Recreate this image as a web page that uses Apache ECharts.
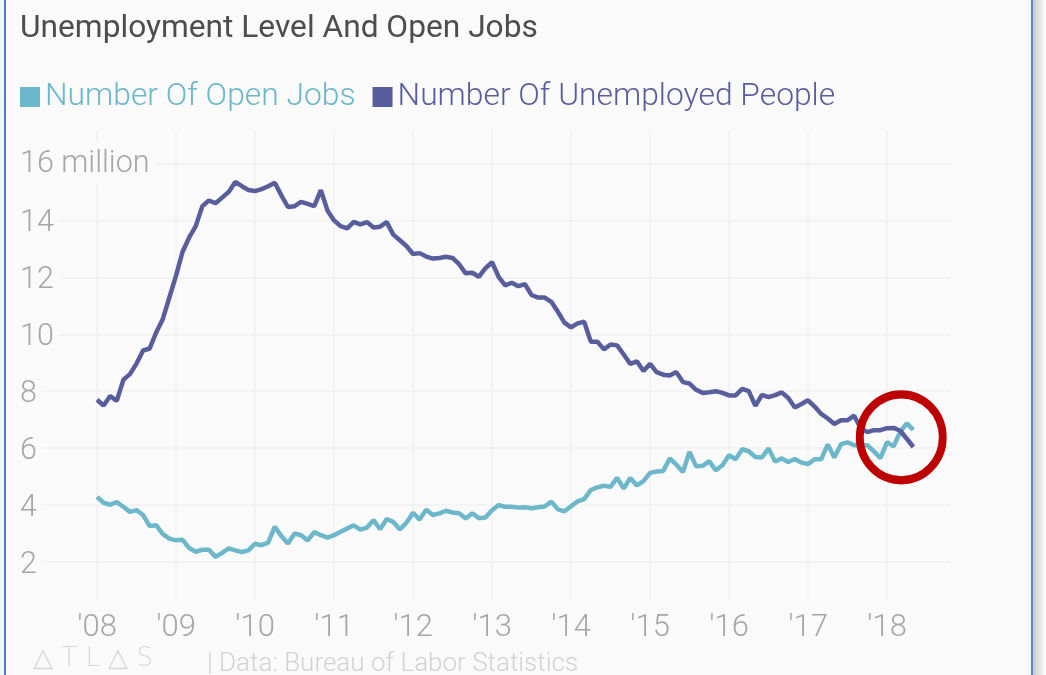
<!DOCTYPE html>
<html>
<head>
<meta charset="utf-8">
<script src="https://cdn.jsdelivr.net/npm/echarts@6/dist/echarts.min.js"></script>
<style>
  html, body { margin: 0; padding: 0; background: #fafafa; }
  #chart { width: 1046px; height: 675px; }
</style>
</head>
<body>
<div id="chart"></div>
<script>
var openJobs = [
  4.29, 4.08, 4.01, 4.10, 3.94, 3.76, 3.82, 3.65, 3.26, 3.29, 2.98, 2.82,
  2.76, 2.78, 2.49, 2.36, 2.43, 2.43, 2.18, 2.32, 2.48, 2.41, 2.35, 2.41,
  2.64, 2.59, 2.68, 3.24, 2.91, 2.65, 3.00, 2.94, 2.76, 3.05, 2.94, 2.86,
  2.94, 3.06, 3.18, 3.29, 3.14, 3.21, 3.47, 3.15, 3.51, 3.41, 3.14, 3.38,
  3.73, 3.49, 3.84, 3.65, 3.71, 3.80, 3.74, 3.71, 3.53, 3.71, 3.54, 3.56,
  3.82, 4.00, 3.94, 3.94, 3.91, 3.92, 3.89, 3.92, 3.95, 4.12, 3.85, 3.78,
  3.96, 4.13, 4.21, 4.53, 4.62, 4.68, 4.64, 4.96, 4.58, 4.95, 4.69, 4.84,
  5.13, 5.18, 5.20, 5.64, 5.42, 5.16, 5.87, 5.36, 5.38, 5.54, 5.22, 5.40,
  5.75, 5.61, 5.96, 5.89, 5.69, 5.67, 5.99, 5.53, 5.64, 5.51, 5.62, 5.49,
  5.44, 5.61, 5.61, 6.13, 5.67, 6.14, 6.20, 6.10, 6.10, 6.10, 5.89, 5.65,
  6.21, 6.06, 6.57, 6.87, 6.64
];
var unemployed = [
  7.70, 7.50, 7.83, 7.66, 8.40, 8.60, 8.97, 9.43, 9.50, 10.07, 10.54, 11.30,
  12.06, 12.90, 13.40, 13.80, 14.50, 14.70, 14.60, 14.80, 15.00, 15.35, 15.20, 15.07,
  15.03, 15.10, 15.20, 15.32, 14.88, 14.47, 14.50, 14.65, 14.58, 14.50, 15.06, 14.35,
  14.00, 13.80, 13.72, 13.95, 13.86, 13.94, 13.75, 13.78, 13.94, 13.50, 13.30, 13.10,
  12.82, 12.85, 12.73, 12.66, 12.68, 12.72, 12.68, 12.46, 12.14, 12.16, 12.02, 12.32,
  12.53, 12.02, 11.72, 11.81, 11.69, 11.76, 11.38, 11.29, 11.29, 11.14, 10.79, 10.41,
  10.24, 10.38, 10.44, 9.74, 9.74, 9.47, 9.64, 9.61, 9.29, 8.96, 9.05, 8.71,
  8.96, 8.67, 8.58, 8.55, 8.67, 8.32, 8.27, 8.05, 7.94, 7.96, 8.00, 7.94,
  7.85, 7.85, 8.08, 8.00, 7.49, 7.87, 7.79, 7.86, 7.96, 7.76, 7.43, 7.55,
  7.68, 7.46, 7.20, 7.04, 6.85, 6.98, 6.98, 7.14, 6.70, 6.56, 6.63, 6.63,
  6.70, 6.71, 6.61, 6.33, 6.04
];
var yTicks = [2, 4, 6, 8, 10, 12, 14, 16];
var yearTicks = [2008, 2009, 2010, 2011, 2012, 2013, 2014, 2015, 2016, 2017, 2018];
// where the red ring sits, on the chart's own scales
var ringCenter = [[2018.18, 6.38]];

// x is in years, one value a month from 2008-01 on
var pair = function(values) {
  return values.map(function(v, i) { return [2008 + i / 12, v]; });
}

var chart = echarts.init(document.getElementById('chart'));
var gridColor = '#f1f1f1';
var labelColor = '#a6a6a6';
var font = 'Roboto';

chart.setOption({
  animation: false,
  backgroundColor: '#fafafa',
  textStyle: { fontFamily: font },
  title: {
    text: 'Unemployment Level And Open Jobs',
    left: 20,
    top: 13,
    padding: 0,
    textStyle: { fontFamily: font, fontSize: 31.7, fontWeight: 400, color: '#4d4d4d' }
  },
  legend: {
    left: 20,
    top: 81,
    padding: 0,
    icon: 'rect',
    itemWidth: 20,
    itemHeight: 20,
    itemGap: 17,
    data: ['Number Of Open Jobs', 'Number Of Unemployed People'],
    textStyle: { fontFamily: font, fontSize: 31.8, fontWeight: 300, color: 'inherit' }
  },
  grid: { left: 20, top: 131, width: 930, height: 469 },
  xAxis: {
    type: 'value',
    min: 2007.025,
    max: 2018.797,
    axisLine: { show: false },
    axisTick: { show: false, customValues: yearTicks },
    splitLine: { show: true, lineStyle: { color: gridColor, width: 1.5 } },
    axisLabel: {
      customValues: yearTicks,
      margin: 13,
      fontSize: 31,
      fontWeight: 300,
      color: labelColor,
      formatter: function(v) {
        return "'" + String(v).slice(2);
      }
    }
  },
  yAxis: {
    type: 'value',
    min: 0.665,
    max: 17.14,
    axisLine: { show: false },
    axisTick: { show: false, customValues: yTicks },
    splitLine: { show: true, lineStyle: { color: gridColor, width: 1.5 } },
    axisLabel: {
      customValues: yTicks,
      inside: true,
      margin: 0,
      align: 'left',
      fontSize: 30.5,
      fontWeight: 300,
      color: labelColor,
      backgroundColor: '#fafafa',
      padding: [6, 6, 0, 0],
      rich: {
        top: { fontSize: 30.5, fontWeight: 300, color: labelColor, padding: [0, 0, 5, 0] }
      },
      formatter: function(v) {
        return v == 16 ? '{top|16 million}' : String(v);
      }
    }
  },
  series: [
    {
      name: 'Number Of Open Jobs',
      type: 'line',
      showSymbol: false,
      data: pair(openJobs),
      itemStyle: { color: '#6db7ca' },
      lineStyle: { color: '#6db7ca', width: 4.5 },
      z: 3
    },
    {
      name: 'Number Of Unemployed People',
      type: 'line',
      showSymbol: false,
      data: pair(unemployed),
      itemStyle: { color: '#585e9c' },
      lineStyle: { color: '#585e9c', width: 4.5 },
      z: 4
    },
    {
      name: 'ring',
      type: 'scatter',
      data: ringCenter,
      symbol: 'circle',
      symbolSize: [83, 86],
      silent: true,
      itemStyle: { color: 'rgba(0,0,0,0)', borderColor: '#bd0000', borderWidth: 8, opacity: 1 },
      z: 5
    }
  ],
  graphic: [
    { type: 'rect', left: 0, top: 0, shape: { width: 4, height: 675 }, style: { fill: '#f4f4f4' }, z: 10 },
    { type: 'rect', left: 4, top: 0, shape: { width: 2, height: 675 }, style: { fill: '#4c7cc4' }, z: 10 },
    { type: 'rect', left: 1031, top: 0, shape: { width: 2, height: 675 }, style: { fill: '#5c86c6' }, z: 10 },
    {
      type: 'rect', left: 1033, top: 0, shape: { width: 13, height: 675 }, z: 10,
      style: { fill: new echarts.graphic.LinearGradient(0, 0, 1, 0, [
        { offset: 0, color: '#c9c9c9' }, { offset: 1, color: '#ffffff' }
      ]) }
    },
    { type: 'text', left: 33, top: 646, z: 10, style: {
      text: '\u25B3 T L \u25B3 S', fill: '#d8d8d8', font: '300 26px "DejaVu Sans", Roboto'
    } },
    { type: 'text', left: 207, top: 651, z: 10, style: {
      text: '| Data: Bureau of Labor Statistics', fill: '#d2d2d2', font: '300 26px Roboto'
    } }
  ]
});
</script>
</body>
</html>
